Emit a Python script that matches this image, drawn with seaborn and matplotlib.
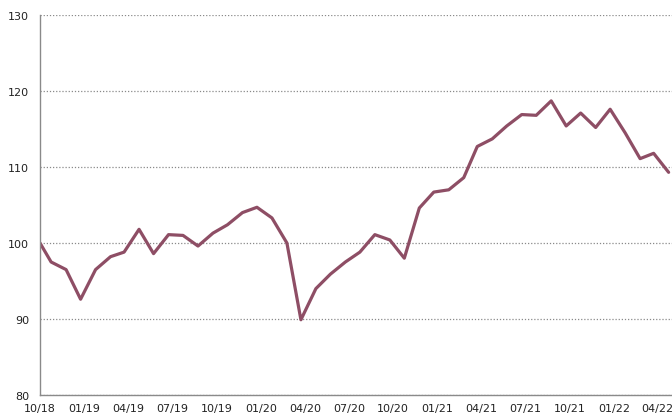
import pandas as pd
import numpy as np
import matplotlib
matplotlib.use("Agg")
import matplotlib.pyplot as plt
import matplotlib.dates as mdates
import seaborn as sns

# ── Data ──────────────────────────────────────────────────────
start_date = "2018-10-01"          # base point, index = 100
monthly_day = 24                   # later readings fall late in each month
n_months = 43

index_values = [
    100.0, 97.5, 96.5, 92.6, 96.5, 98.2, 98.8, 101.8, 98.6, 101.1,
    101.0, 99.6, 101.3, 102.4, 104.0, 104.7, 103.3, 100.0, 89.9, 94.0,
    95.9, 97.5, 98.8, 101.1, 100.4, 98.0, 104.6, 106.7, 107.0, 108.6,
    112.7, 113.7, 115.4, 116.9, 116.8, 118.7, 115.4, 117.1, 115.2, 117.6,
    114.5, 111.1, 111.8, 109.3,
]

y_ticks = [80, 90, 100, 110, 120, 130]
tick_labels = ["10/18", "01/19", "04/19", "07/19", "10/19", "01/20", "04/20",
               "07/20", "10/20", "01/21", "04/21", "07/21", "10/21", "01/22", "04/22"]

dates = [pd.Timestamp(start_date)] + list(
    pd.date_range(start_date, periods=n_months, freq="MS") + pd.Timedelta(days=monthly_day - 1)
)
df = pd.DataFrame({"date": dates, "value": index_values})

# ── Plot ──────────────────────────────────────────────────────
sns.set_style("white")
plt.rcParams["font.family"] = ["DejaVu Sans"]

fig = plt.figure(figsize=(6.72, 4.14), dpi=100)
ax = fig.add_axes([40 / 672, 1 - 396 / 414, 1 - 40 / 672, 380 / 414])

sns.lineplot(data=df, x="date", y="value", ax=ax, color="#8E4E65", lw=2.3)

tick_dates = pd.to_datetime(["20" + t[3:] + "-" + t[:2] + "-01" for t in tick_labels])
ax.set_xticks(tick_dates)
ax.set_xticklabels(tick_labels)
ax.set_xlim(pd.Timestamp(start_date), pd.Timestamp("2022-05-01"))

ax.set_ylim(80, 130)
ax.set_yticks(y_ticks)
ax.yaxis.grid(True, linestyle=(0, (1, 1.5)), color="#8a8a8a", lw=0.9)
ax.set_axisbelow(True)

ax.set_xlabel("")
ax.set_ylabel("")
for side in ["top", "right"]:
    ax.spines[side].set_visible(False)
for side in ["left", "bottom"]:
    ax.spines[side].set_color("#8a8a8a")
    ax.spines[side].set_linewidth(1.0)

ax.tick_params(axis="x", direction="in", length=3, width=0.8, color="#8a8a8a",
               pad=6, labelsize=8, labelcolor="#222222")
ax.tick_params(axis="y", length=0, pad=8, labelsize=8, labelcolor="#222222")

plt.savefig("out.png", dpi=100)
plt.close()
